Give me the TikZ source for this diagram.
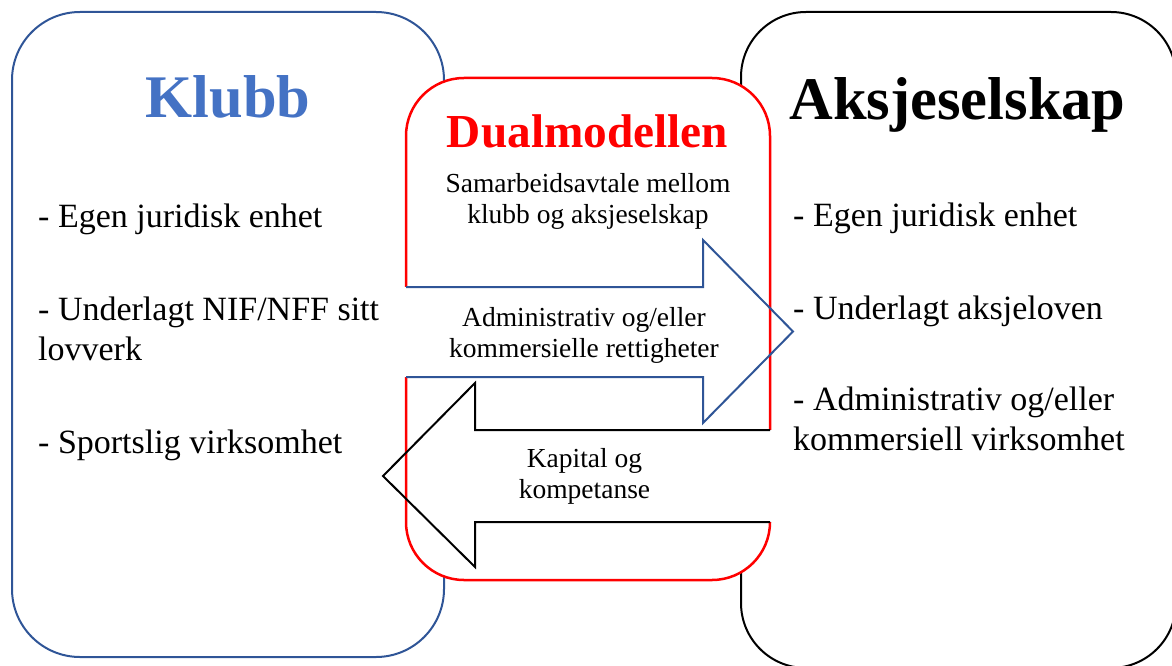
\documentclass[tikz,border=0pt]{standalone}
\usepackage{fontspec}
\setmainfont{Liberation Serif}
\usetikzlibrary{positioning, calc}
\usepackage{xcolor}
\definecolor{klubbline}{HTML}{2F5597}
\definecolor{klubbblue}{HTML}{4472C4}
\definecolor{dualred}{HTML}{FF0000}
\definecolor{asdark}{HTML}{000000}

\begin{document}
\begin{tikzpicture}[x=1pt, y=-1pt,
  heading/.style={font=\fontsize{60.5}{70}\selectfont\bfseries, anchor=base, inner sep=0pt},
  bulletlist/.style={font=\fontsize{34}{40}\selectfont, anchor=base west, align=left, inner sep=0pt},
  flowtext/.style={font=\fontsize{27.5}{31}\selectfont, anchor=base, align=center, inner sep=0pt}
]
  \useasboundingbox (0,0) rectangle (1172,666);

  % Outer boxes
  \draw[line width=2pt, klubbline, rounded corners=68pt] (12,12) rectangle (444,657);
  \draw[line width=2pt, asdark, rounded corners=65pt] (741,12) rectangle (1176,668);

  % Dual model box
  \draw[line width=2.5pt, dualred, fill=white, rounded corners=58pt] (406,78) rectangle (770,580);

  % Arrow to the company
  \fill[white] (402,287) rectangle (703,377);
  \draw[line width=2pt, klubbline]
    (406,287) -- (703,287) -- (703,240) -- (793,331.5) -- (703,423) -- (703,377) -- (406,377);

  % Arrow back to the club
  \fill[white] (475,430) rectangle (774,522);
  \draw[line width=2pt, asdark]
    (770,430) -- (475,430) -- (475,383) -- (383,476) -- (475,567) -- (475,522) -- (770,522);

  % Headings
  \node[heading, klubbblue] (klubb) at (228,118) {Klubb};
  \node[heading, asdark] (aksje) at (957.5,120) {Aksjeselskap};
  \node[heading, dualred, font=\fontsize{47.3}{55}\selectfont\bfseries] (dual) at (587.5,147) {Dualmodellen};

  % Texts in the middle (base = last line)
  \node[flowtext] (samarbeid) at (588,223) {Samarbeidsavtale mellom\\klubb og aksjeselskap};
  \node[flowtext] (rettigheter) at (584,357) {Administrativ og/eller\\kommersielle rettigheter};
  \node[flowtext] (kapital) at (584.5,498) {Kapital og\\kompetanse};

  % Club points
  \node[bulletlist] (kl1) at (38,227) {- Egen juridisk enhet};
  \node[bulletlist] (kl2) at (38,360) {- Underlagt NIF/NFF sitt\\lovverk};
  \node[bulletlist] (kl3) at (38,453) {- Sportslig virksomhet};

  % Company points
  \node[bulletlist] (ak1) at (793,226) {- Egen juridisk enhet};
  \node[bulletlist] (ak2) at (793,319) {- Underlagt aksjeloven};
  \node[bulletlist] (ak3) at (793,450) {- Administrativ og/eller\\kommersiell virksomhet};
\end{tikzpicture}
\end{document}
